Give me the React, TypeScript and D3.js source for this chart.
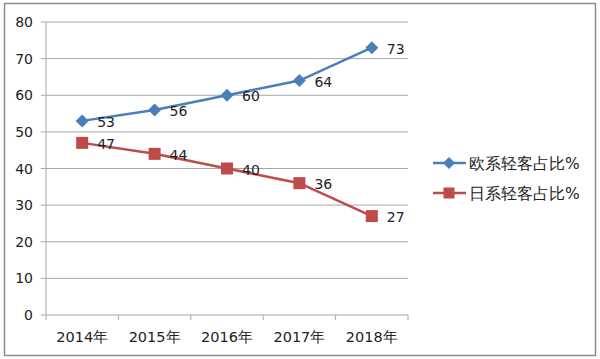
import React from "react";
import * as d3 from "d3";

const categories = ["2014年", "2015年", "2016年", "2017年", "2018年"];
const euroValues = [53, 56, 60, 64, 73];
const japanValues = [47, 44, 40, 36, 27];
const yTicks = [0, 10, 20, 30, 40, 50, 60, 70, 80];
const seriesNames = ["欧系轻客占比%", "日系轻客占比%"];

const W = 600;
const H = 359;
const left = 46;
const right = 408;
const top = 22;
const bottom = 315;
const font = "'DejaVu Sans', Verdana, sans-serif";
const blue = "#4A7EBB";
const red = "#BE4B48";

export default function App() {
  const x = d3.scaleBand<string>().domain(categories).range([left, right]);
  const y = d3.scaleLinear().domain([0, 80]).range([bottom, top]);
  const cx = (c: string) => (x(c) as number) + x.bandwidth() / 2;
  const line = d3
    .line<number>()
    .x((_, i) => cx(categories[i]))
    .y((d) => y(d));
  const boundaries = [...categories.map((c) => x(c) as number), right];

  const diamond = (px: number, py: number, r: number) =>
    `M${px},${py - r}L${px + r},${py}L${px},${py + r}L${px - r},${py}Z`;

  return (
    <svg
      width={W}
      height={H}
      style={{ position: "absolute", left: 0, top: 0, background: "#fff" }}
      fontFamily={font}
    >
      <rect x={4.5} y={3.5} width={591} height={352} fill="#fff" stroke="#8c8c8c" strokeWidth={1.5} />
      {yTicks.map((t) => (
        <g key={t}>
          <line x1={left} x2={right} y1={y(t)} y2={y(t)} stroke="#a6a6a6" strokeWidth={1} />
          <line x1={left - 5} x2={left} y1={y(t)} y2={y(t)} stroke="#a6a6a6" strokeWidth={1} />
          <text x={left - 13} y={y(t)} dy="0.36em" textAnchor="end" fontSize={14} fill="#222">
            {t}
          </text>
        </g>
      ))}
      <line x1={left} x2={left} y1={top} y2={bottom} stroke="#a6a6a6" strokeWidth={1} />
      {boundaries.map((b, i) => (
        <line key={i} x1={b} x2={b} y1={bottom} y2={bottom + 5} stroke="#a6a6a6" strokeWidth={1} />
      ))}
      {categories.map((c) => (
        <text key={c} x={cx(c)} y={bottom + 22} dy="0.36em" textAnchor="middle" fontSize={14.5} fill="#222">
          {c}
        </text>
      ))}
      <path d={line(euroValues) || ""} fill="none" stroke={blue} strokeWidth={2.5} />
      <path d={line(japanValues) || ""} fill="none" stroke={red} strokeWidth={2.5} />
      {euroValues.map((v, i) => (
        <g key={"e" + i}>
          <path d={diamond(cx(categories[i]), y(v), 6.5)} fill={blue} />
          <text x={cx(categories[i]) + 15} y={y(v) + 1} dy="0.36em" fontSize={14} fill="#222">
            {v}
          </text>
        </g>
      ))}
      {japanValues.map((v, i) => (
        <g key={"j" + i}>
          <rect x={cx(categories[i]) - 6} y={y(v) - 6} width={12} height={12} fill={red} />
          <text x={cx(categories[i]) + 15} y={y(v) + 1} dy="0.36em" fontSize={14} fill="#222">
            {v}
          </text>
        </g>
      ))}
      <g>
        <line x1={433} x2={466} y1={163} y2={163} stroke={blue} strokeWidth={2.5} />
        <path d={diamond(449, 163, 6)} fill={blue} />
        <text x={469} y={163} dy="0.36em" fontSize={15.5} fill="#222">
          {seriesNames[0]}
        </text>
        <line x1={433} x2={466} y1={193} y2={193} stroke={red} strokeWidth={2.5} />
        <rect x={443.5} y={187.5} width={11} height={11} fill={red} />
        <text x={469} y={193} dy="0.36em" fontSize={15.5} fill="#222">
          {seriesNames[1]}
        </text>
      </g>
    </svg>
  );
}
